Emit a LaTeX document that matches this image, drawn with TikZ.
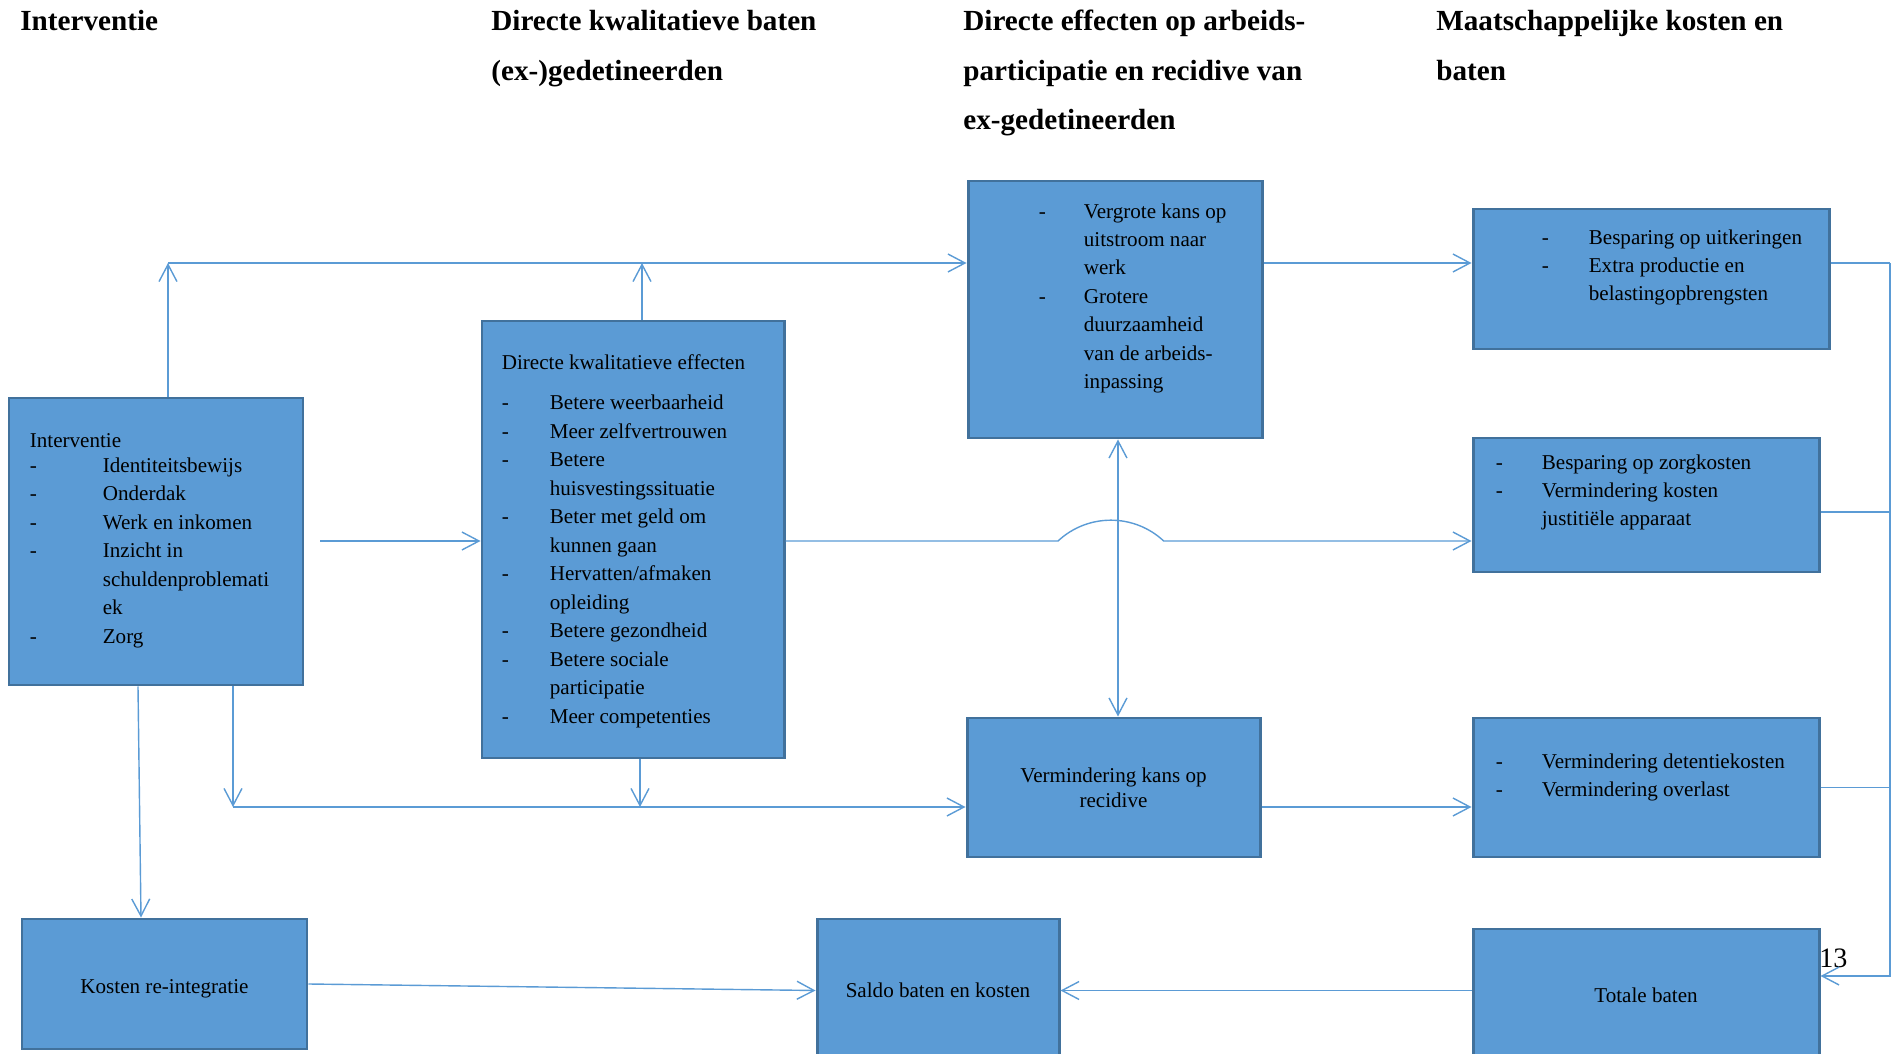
\documentclass[tikz,border=0pt]{standalone}
\usepackage{fontspec}
\setmainfont{Liberation Serif}
\usetikzlibrary{arrows.meta,positioning}
\definecolor{vlak}{HTML}{5B9BD5}
\definecolor{rand}{HTML}{41719C}
\definecolor{lijn}{HTML}{5B9BD5}
\tikzset{
    blok/.style={draw=rand, fill=vlak, line width=1.7pt, inner sep=0pt, align=center, font=\fontsize{12}{14.2}\selectfont},
    tekst/.style={anchor=base west, inner sep=0pt, font=\fontsize{12}{16.2}\selectfont},
    kop/.style={anchor=base west, inner sep=0pt, font=\fontsize{16.6}{28.2}\selectfont\bfseries},
    verbinding/.style={color=lijn, line width=0.8pt}
}

\begin{document}
\begin{tikzpicture}[>={Straight Barb[length=9.7pt,width=10.2pt]}]
        \useasboundingbox (0,0) rectangle (37.92,-21.08);

        \node[kop] at (0.40,-0.61)(k1){\begin{tabular}[t]{@{}l@{}}Interventie\end{tabular}};
        \node[kop] at (9.82,-0.61)(k2){\begin{tabular}[t]{@{}l@{}}Directe kwalitatieve baten\\(ex-)gedetineerden\end{tabular}};
        \node[kop] at (19.26,-0.61)(k3){\begin{tabular}[t]{@{}l@{}}Directe effecten op arbeids-\\participatie en recidive van\\ex-gedetineerden\end{tabular}};
        \node[kop] at (28.72,-0.61)(k4){\begin{tabular}[t]{@{}l@{}}Maatschappelijke kosten en\\baten\end{tabular}};

        \node[blok, minimum width=5.88cm, minimum height=5.74cm] at (3.12,-10.83)(intv){};
        \node[blok, minimum width=6.04cm, minimum height=8.74cm] at (12.66,-10.79)(dkw){};
        \node[blok, minimum width=5.88cm, minimum height=5.14cm] at (22.30,-6.19)(vergr){};
        \node[blok, minimum width=7.12cm, minimum height=2.80cm] at (33.02,-5.58)(uitk){};
        \node[blok, minimum width=6.92cm, minimum height=2.68cm] at (32.92,-10.10)(zorg){};
        \node[blok, minimum width=5.86cm, minimum height=2.78cm] at (22.27,-15.75)(recid){Vermindering kans op\\recidive};
        \node[blok, minimum width=6.92cm, minimum height=2.78cm] at (32.92,-15.75)(dtnt){};
        \node[blok, minimum width=5.70cm, minimum height=2.60cm, text height=13.9pt, text depth=2.6pt] at (3.29,-19.68)(kost){Kosten re-integratie};
        \node[blok, minimum width=4.84cm, minimum height=2.86cm] at (18.76,-19.81)(saldo){Saldo baten en kosten};
        \node[blok, minimum width=6.92cm, minimum height=2.64cm] at (32.92,-19.90)(totaal){Totale baten};

        \node[tekst] at ([shift={(0.44,-1.01)}]intv.north west)(intv-t){\begin{tabular}[t]{@{}p{1.46cm}@{}l@{}}
            \multicolumn{2}{@{}l@{}}{Interventie}\\[-1.7pt]
            - & Identiteitsbewijs\\
            - & Onderdak\\
            - & Werk en inkomen\\
            - & Inzicht in\\
              & schuldenproblemati\\
              & ek\\
            - & Zorg
        \end{tabular}};
        \node[tekst] at ([shift={(0.42,-0.99)}]dkw.north west)(dkw-t){\begin{tabular}[t]{@{}p{0.96cm}@{}l@{}}
            \multicolumn{2}{@{}l@{}}{Directe kwalitatieve effecten}\\[7.1pt]
            - & Betere weerbaarheid\\
            - & Meer zelfvertrouwen\\
            - & Betere\\
              & huisvestingssituatie\\
            - & Beter met geld om\\
              & kunnen gaan\\
            - & Hervatten/afmaken\\
              & opleiding\\
            - & Betere gezondheid\\
            - & Betere sociale\\
              & participatie\\
            - & Meer competenties
        \end{tabular}};
        \node[tekst] at ([shift={(1.44,-0.77)}]vergr.north west)(vergr-t){\begin{tabular}[t]{@{}p{0.90cm}@{}l@{}}
            - & Vergrote kans op\\
              & uitstroom naar\\
              & werk\\
            - & Grotere\\
              & duurzaamheid\\
              & van de arbeids-\\
              & inpassing
        \end{tabular}};
        \node[tekst] at ([shift={(1.40,-0.73)}]uitk.north west)(uitk-t){\begin{tabular}[t]{@{}p{0.94cm}@{}l@{}}
            - & Besparing op uitkeringen\\
            - & Extra productie en\\
              & belastingopbrengsten
        \end{tabular}};
        \node[tekst] at ([shift={(0.48,-0.65)}]zorg.north west)(zorg-t){\begin{tabular}[t]{@{}p{0.92cm}@{}l@{}}
            - & Besparing op zorgkosten\\
            - & Vermindering kosten\\
              & justitiële apparaat
        \end{tabular}};
        \node[tekst] at ([shift={(0.48,-1.03)}]dtnt.north west)(dtnt-t){\begin{tabular}[t]{@{}p{0.92cm}@{}l@{}}
            - & Vermindering detentiekosten\\
            - & Vermindering overlast
        \end{tabular}};
        \node[tekst, font=\fontsize{16}{19}\selectfont] at (36.38,-19.34)(pagnr){13};

        \coordinate (boven) at (3.36,-5.26);
        \coordinate (onder) at (4.66,-16.14);
        \coordinate (start) at (6.40,-10.82);
        \coordinate (kruis) at (22.36,-10.82);
        \coordinate (rechts) at (37.80,-5.26);
        \coordinate (dkw-n) at ([xshift=0.18cm]dkw.north);
        \coordinate (dkw-z) at ([xshift=0.14cm]dkw.south);
        \coordinate (intv-z) at ([xshift=-0.36cm]intv.south);
        \coordinate (kost-n) at ([xshift=-0.47cm]kost.north);
        \coordinate (zorg-o) at ([yshift=-0.14cm]zorg.east);
        \coordinate (totaal-o) at ([yshift=0.38cm]totaal.east);

        \path[verbinding, ->]
        (intv.north -| boven) edge (boven)
        (boven) edge (vergr.west |- boven)
        (dkw-n) edge (dkw-n |- boven)
        (start) edge (dkw.west |- start)
        (vergr.east |- boven) edge (uitk.west |- boven)
        (intv.south -| onder) edge (onder)
        (onder) edge (recid.west |- onder)
        (dkw-z) edge (dkw-z |- onder)
        (recid.east |- onder) edge (dtnt.west |- onder)
        (intv-z) edge (kost-n)
        (kost.east) edge (saldo.west)
        (totaal.west |- saldo.east) edge (saldo.east)
        ;

        \draw[verbinding, ->] (dkw.east |- kruis) -- ([xshift=-1.2cm]kruis) arc[start angle=133, end angle=47, radius=1.55] -- (zorg.west |- kruis);
        \draw[verbinding, <->] (vergr.south -| kruis) -- (recid.north -| kruis);
        \draw[verbinding] (uitk.east |- boven) -- (rechts);
        \draw[verbinding] (zorg-o) -- (zorg-o -| rechts);
        \draw[verbinding] (dtnt.east) -- (dtnt.east -| rechts);
        \draw[verbinding, ->] (rechts) |- (totaal-o);
    \end{tikzpicture}
\end{document}
